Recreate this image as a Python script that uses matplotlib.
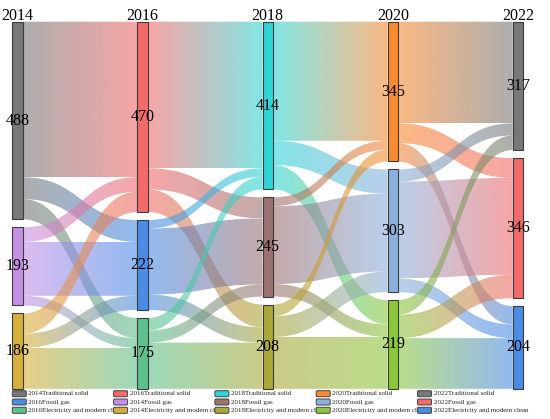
import numpy as np
import matplotlib
matplotlib.use("Agg")
import matplotlib.pyplot as plt
from matplotlib.path import Path
from matplotlib.patches import PathPatch, FancyBboxPatch, Rectangle
from matplotlib.colors import to_rgb

plt.rcParams['font.family'] = ['Liberation Serif', 'DejaVu Serif']

YEARS = ["2014", "2016", "2018", "2020", "2022"]
CATEGORIES = ["Traditional solid", "Fossil gas", "Electricity and modern clean"]

# flows between consecutive years, rows = source category, cols = target category
FLOW_2014_2016 = [[384, 54, 50], [36, 133, 24], [50, 35, 101]]
FLOW_2016_2018 = [[362, 52, 56], [21, 163, 38], [31, 30, 114]]
FLOW_2018_2020 = [[294, 60, 60], [22, 192, 31], [29, 51, 128]]
FLOW_2020_2022 = [[251, 49, 45], [30, 239, 34], [36, 58, 125]]
FLOWS = [FLOW_2014_2016, FLOW_2016_2018, FLOW_2018_2020, FLOW_2020_2022]

COLORS_2014 = ["#787878", "#c490e6", "#d6b03a"]
COLORS_2016 = ["#f26a6a", "#4a8ce6", "#5ec08c"]
COLORS_2018 = ["#30d4d4", "#9c7272", "#aaa838"]
COLORS_2020 = ["#f88a32", "#8cb0dc", "#8cc63c"]
COLORS_2022 = ["#787878", "#f26a6a", "#4a8ce6"]
NODE_COLORS = [COLORS_2014, COLORS_2016, COLORS_2018, COLORS_2020, COLORS_2022]

# legend order as in the original (row by row)
LEGEND_ROWS = [
    [("2014", 0), ("2016", 0), ("2018", 0), ("2020", 0), ("2022", 0)],
    [("2016", 1), ("2014", 1), ("2018", 1), ("2020", 1), ("2022", 1)],
    [("2016", 2), ("2014", 2), ("2018", 2), ("2020", 2), ("2022", 2)],
]

# node values: out-sums for the first column, in-sums for the others
node_vals = [[sum(r) for r in FLOWS[0]]]
for fl in FLOWS:
    node_vals.append([sum(fl[s][t] for s in range(3)) for t in range(3)])

fig = plt.figure(figsize=(5.5, 4.19), dpi=100)
ax = fig.add_axes([0, 0, 1, 1])

NODE_LEFT0 = 12.3
COL_STEP = 125.1
NODE_W = 10.4
TOP = 21.7
BOTTOM = 388.8
GAP = 8.0
k = (BOTTOM - TOP - 2 * GAP) / sum(node_vals[0])

node_y = []
for vals in node_vals:
    ys = []
    y = TOP
    for v in vals:
        ys.append(y)
        y += v * k + GAP
    node_y.append(ys)


def node_x(i):
    return NODE_LEFT0 + i * COL_STEP


ALPHA = 0.6
for i, fl in enumerate(FLOWS):
    xs = node_x(i) + NODE_W
    xt = node_x(i + 1)
    xm = (xs + xt) / 2
    out_off = list(node_y[i])
    in_off = list(node_y[i + 1])
    for s in range(3):
        for t in range(3):
            v = fl[s][t]
            h = v * k
            ys0, ys1 = out_off[s], out_off[s] + h
            yt0, yt1 = in_off[t], in_off[t] + h
            out_off[s] += h
            in_off[t] += h
            verts = [(xs, ys0), (xm, ys0), (xm, yt0), (xt, yt0),
                     (xt, yt1), (xm, yt1), (xm, ys1), (xs, ys1), (xs, ys0)]
            codes = [Path.MOVETO, Path.CURVE4, Path.CURVE4, Path.CURVE4,
                     Path.LINETO, Path.CURVE4, Path.CURVE4, Path.CURVE4,
                     Path.CLOSEPOLY]
            patch = PathPatch(Path(verts, codes), facecolor="none",
                              edgecolor="none")
            ax.add_patch(patch)
            c0 = np.array(to_rgb(NODE_COLORS[i][s]))
            c1 = np.array(to_rgb(NODE_COLORS[i + 1][t]))
            g = np.linspace(0, 1, 256)[:, None]
            img = np.ones((1, 256, 4))
            img[0, :, :3] = c0 * (1 - g) + c1 * g
            img[0, :, 3] = ALPHA
            ymin = min(ys0, yt0)
            ymax = max(ys1, yt1)
            im = ax.imshow(img, extent=(xs, xt, ymax, ymin), aspect="auto",
                           interpolation="bilinear", zorder=2)
            im.set_clip_path(patch)

for i, year in enumerate(YEARS):
    x = node_x(i)
    for c in range(3):
        h = node_vals[i][c] * k
        ax.add_patch(Rectangle((x, node_y[i][c]), NODE_W, h,
                               facecolor=NODE_COLORS[i][c],
                               edgecolor="#3c3c3c", lw=0.8, zorder=5))
        ax.text(x + NODE_W / 2, node_y[i][c] + h / 2, str(node_vals[i][c]),
                ha="center", va="center", fontsize=11.5, color="black",
                zorder=6)
    ax.text(x + NODE_W / 2, TOP - 1.8, year, ha="center", va="baseline",
            fontsize=11.5, color="black")

# legend
LEG_X0 = 12.3
LEG_DX = 101.3
LEG_Y0 = 390.7
LEG_DY = 8.3
for r, row in enumerate(LEGEND_ROWS):
    for c, (year, cat) in enumerate(row):
        x = LEG_X0 + c * LEG_DX
        y = LEG_Y0 + r * LEG_DY
        col = NODE_COLORS[YEARS.index(year)][cat]
        ax.add_patch(FancyBboxPatch((x, y), 14, 6,
                                    boxstyle="round,pad=0,rounding_size=1.2",
                                    facecolor=col, edgecolor="#444444",
                                    lw=0.7, zorder=4))
        ax.text(x + 16, y + 3.2, year + CATEGORIES[cat], fontsize=5.0,
                va="center", ha="left", color="#222222", zorder=3)

ax.set_xlim(0, 550)
ax.set_ylim(419, 0)
ax.axis("off")
fig.savefig("out.png", dpi=100)
